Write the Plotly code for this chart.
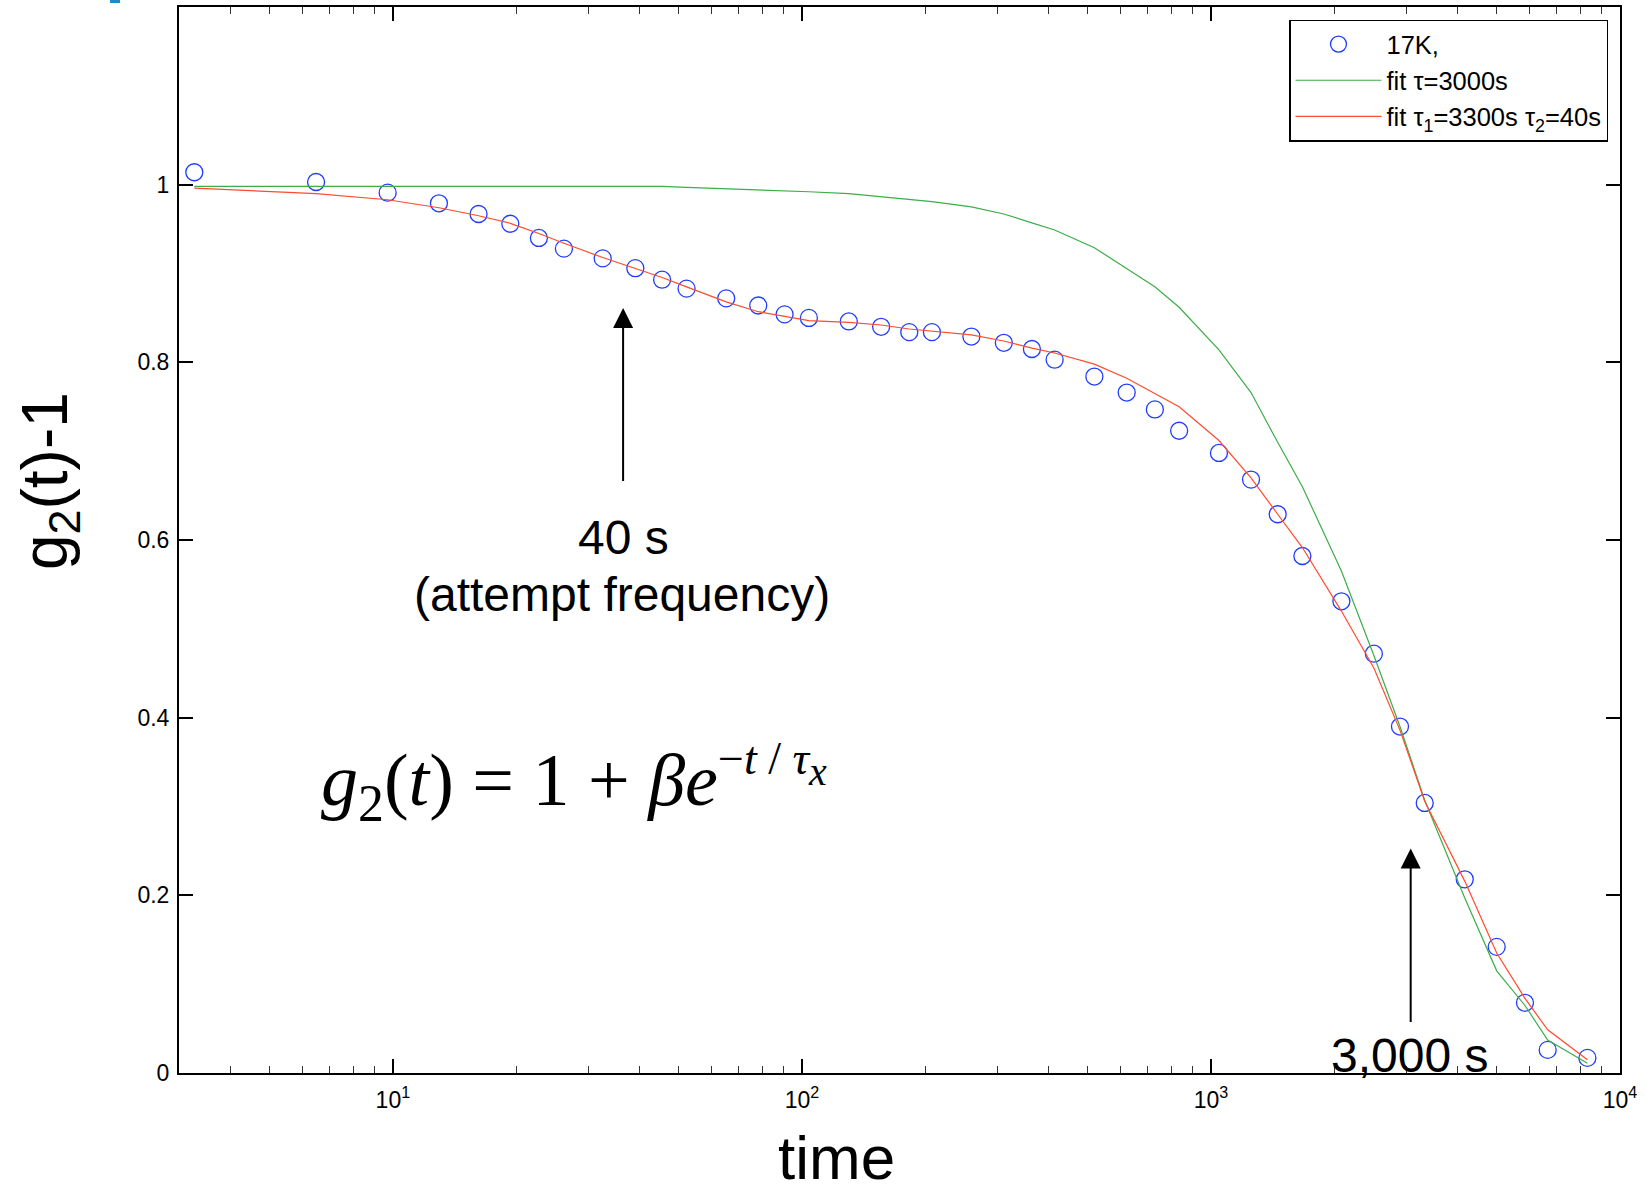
import plotly.graph_objects as go
import math

# ---------------- data ----------------
t_data = [3.27, 6.49, 9.71, 12.96, 16.2, 19.37, 22.75, 26.19, 32.58, 39.15,
          45.52, 52.24, 65.3, 78.2, 90.7, 104.0, 130.2, 156.2, 183.0, 207.9,
          259.6, 311.6, 365.0, 414.8, 518.8, 622.3, 729.2, 836.0, 1046, 1253,
          1456, 1673, 2084, 2502, 2898, 3331, 4173, 4995, 5857, 6656, 8324]
g2_data = [1.014, 1.003, 0.991, 0.979, 0.967, 0.956, 0.940, 0.928, 0.917, 0.906,
           0.893, 0.883, 0.872, 0.864, 0.854, 0.850, 0.846, 0.840, 0.834, 0.834,
           0.829, 0.822, 0.815, 0.803, 0.784, 0.766, 0.747, 0.723, 0.698, 0.668,
           0.629, 0.582, 0.531, 0.472, 0.390, 0.304, 0.218, 0.142, 0.079, 0.026, 0.017]
fit_single = [0.998, 0.998, 0.998, 0.998, 0.998, 0.998, 0.998, 0.998, 0.998, 0.998,
              0.998, 0.997, 0.9955, 0.994, 0.9935, 0.992, 0.990, 0.9865, 0.9835, 0.981,
              0.975, 0.967, 0.957, 0.949, 0.929, 0.906, 0.885, 0.862, 0.814, 0.766,
              0.710, 0.660, 0.565, 0.470, 0.390, 0.307, 0.197, 0.115, 0.076, 0.037, 0.011]
fit_double = [0.996, 0.990, 0.983, 0.974, 0.965, 0.9565, 0.945, 0.934, 0.918, 0.906,
              0.8955, 0.885, 0.868, 0.857, 0.8515, 0.847, 0.845, 0.842, 0.8375, 0.835,
              0.831, 0.824, 0.816, 0.8105, 0.798, 0.782, 0.765, 0.750, 0.712, 0.670,
              0.629, 0.5915, 0.520, 0.456, 0.386, 0.306, 0.216, 0.135, 0.084, 0.0486, 0.015]

x_major = [10, 100, 1000, 10000]
x_major_text = ["10<sup>1</sup>", "10<sup>2</sup>", "10<sup>3</sup>", "10<sup>4</sup>"]
x_minor = [m * 10 ** k for k in range(0, 4) for m in range(2, 10)]
y_ticks = [0, 0.2, 0.4, 0.6, 0.8, 1]
y_tick_text = ["0", "0.2", "0.4", "0.6", "0.8", "1"]

names = ["17K,", "fit \u03c4=3000s", "fit \u03c4<sub>1</sub>=3300s \u03c4<sub>2</sub>=40s"]

# ---------------- figure ----------------
W, H = 1646, 1196
ML, MR, MT, MB = 179, 26, 7, 123
PW, PH = W - ML - MR, H - MT - MB

def px_to_paper(X, Y):
    return (X - ML) / PW, (H - MB - Y) / PH

SANS = "Liberation Sans, Arial, Helvetica, sans-serif"
SERIF = "Liberation Serif, Times New Roman, serif"

fig = go.Figure()
fig.add_trace(go.Scatter(
    x=t_data, y=g2_data, mode="markers", name=names[0], legendgroup="a",
    marker=dict(symbol="circle-open", size=17, color="#1f3cff", line=dict(width=1.3, color="#1f3cff")),
))
fig.add_trace(go.Scatter(
    x=t_data, y=fit_single, mode="lines", name=names[1], legendgroup="b",
    line=dict(color="#3cad48", width=1.2),
))
fig.add_trace(go.Scatter(
    x=t_data, y=fit_double, mode="lines", name=names[2], legendgroup="c",
    line=dict(color="#ff4b2e", width=1.2),
))

axis_common = dict(
    showline=True, linecolor="black", linewidth=2, mirror="ticks",
    ticks="inside", tickcolor="black", tickwidth=1.5, ticklen=14,
    showgrid=False, zeroline=False,
    tickfont=dict(family=SANS, size=23, color="black"),
)

fig.update_xaxes(
    type="log", range=[math.log10(3.0), 4.0],
    tickmode="array", tickvals=x_major, ticktext=x_major_text,
    minor=dict(tickmode="array", tickvals=x_minor, ticks="inside", ticklen=7,
               tickwidth=1.2, tickcolor="#333", showgrid=False),
    ticklabelstandoff=5,
    **axis_common,
)
fig.update_yaxes(
    range=[0, 1.2], tickmode="array", tickvals=y_ticks, ticktext=y_tick_text,
    ticklabelstandoff=3,
    **axis_common,
)

def lx(X):
    return 1 + (X - 392.3) / 409.0

def ly(Y):
    return (1073.3 - Y) / 890.3

annotations = [
    # arrow towards the 40 s shoulder
    dict(x=lx(622.5), y=ly(306.5), xref="x", yref="y", ax=0, ay=174.5,
         text="", showarrow=True, arrowhead=2, arrowsize=2, arrowwidth=2, arrowcolor="black"),
    dict(x=lx(623), y=ly(537), xref="x", yref="y", text="40 s",
         showarrow=False, font=dict(family=SANS, size=48, color="black"),
         xanchor="center", yanchor="middle"),
    dict(x=lx(621), y=ly(594), xref="x", yref="y", text="(attempt frequency)",
         showarrow=False, font=dict(family=SANS, size=48, color="black"),
         xanchor="center", yanchor="middle"),
    # arrow towards 3000 s
    dict(x=lx(1410), y=ly(848.3), xref="x", yref="y", ax=0, ay=175,
         text="", showarrow=True, arrowhead=2, arrowsize=2, arrowwidth=2, arrowcolor="black"),
    dict(x=lx(1409), y=ly(1056), xref="x", yref="y", text="3,000 s",
         showarrow=False, font=dict(family=SANS, size=48, color="black"),
         xanchor="center", yanchor="middle"),
    # formula
    dict(x=lx(318), y=ly(782), xref="x", yref="y",
         text=("<i>g</i><sub>2</sub>(<i>t</i>) = 1 + <i>\u03b2e</i>"
               "<sup><span style='font-size:46px'>\u2212<i>t</i> / <i>\u03c4</i></span>"
               "<sub><span style='font-size:40px'><i>x</i></span></sub></sup>"),
         showarrow=False, font=dict(family=SERIF, size=74, color="black"),
         xanchor="left", yanchor="middle"),
]

xp, yp = px_to_paper(49, 481)
annotations.append(dict(x=xp, y=yp, xref="paper", yref="paper", text="g<sub>2</sub>(t)-1",
                        textangle=-90, showarrow=False,
                        font=dict(family=SANS, size=64, color="black"),
                        xanchor="center", yanchor="middle"))
xp, yp = px_to_paper(836, 1157)
annotations.append(dict(x=xp, y=yp, xref="paper", yref="paper", text="time",
                        showarrow=False, font=dict(family=SANS, size=62, color="black"),
                        xanchor="center", yanchor="middle"))

lx0, ly0 = px_to_paper(1608, 19.5)
x1, y1 = px_to_paper(110, 0)
x2, y2 = px_to_paper(120, 3)

fig.update_layout(
    width=W, height=H,
    margin=dict(l=ML, r=MR, t=MT, b=MB, autoexpand=False),
    paper_bgcolor="white", plot_bgcolor="white",
    showlegend=True,
    legend=dict(x=lx0, y=ly0, xanchor="right", yanchor="top",
                bgcolor="white", bordercolor="black", borderwidth=1.5,
                font=dict(family=SANS, size=25.5, color="black"),
                itemwidth=86, tracegroupgap=0, traceorder="normal"),
    annotations=annotations,
    shapes=[dict(type="rect", xref="paper", yref="paper", x0=x1, x1=x2, y0=y1, y1=y2,
                 fillcolor="#1a8ad4", line=dict(width=0), layer="above")],
)

fig.write_html("out.html", config={"displayModeBar": False},
               post_script="document.body.style.margin='0px';")
